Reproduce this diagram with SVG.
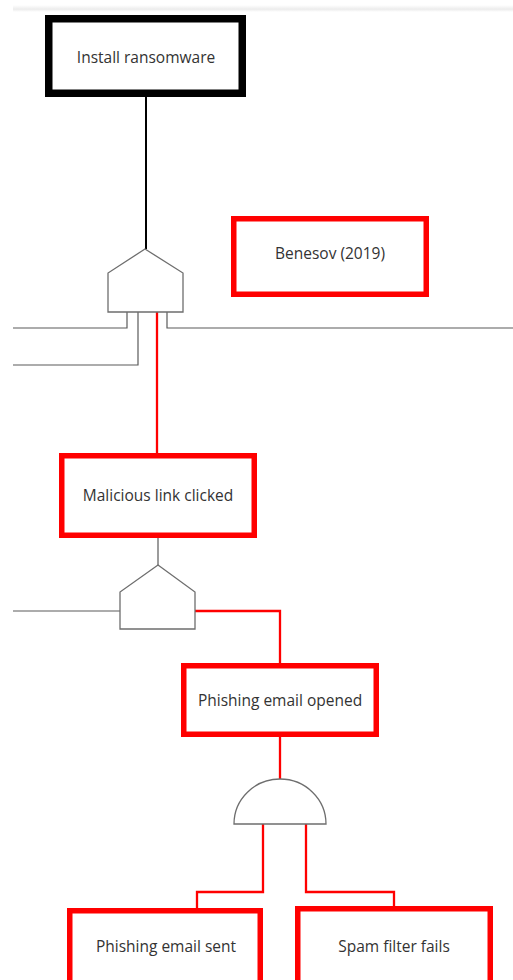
<svg xmlns="http://www.w3.org/2000/svg" width="513" height="980" viewBox="0 0 513 980">
  <style>
    .lbl { font-family: "Open Sans", "Noto Sans", "Liberation Sans", sans-serif; font-size: 15.5px; fill: #333333; text-anchor: middle; dominant-baseline: central; }
    .evt { fill: #ffffff; stroke: #ff0000; stroke-width: 5.5; }
    .top { fill: #ffffff; stroke: #000000; stroke-width: 7.5; }
    .gate { fill: #ffffff; stroke: #6e6e6e; stroke-width: 1.3; }
    .wire { fill: none; stroke: #5a5a5a; stroke-width: 1.2; }
    .hot { fill: none; stroke: #ff0000; stroke-width: 2.3; }
    .root { fill: none; stroke: #000000; stroke-width: 2; }
  </style>
  <defs>
    <linearGradient id="band" x1="0" y1="0" x2="0" y2="1">
      <stop offset="0" stop-color="#ffffff"/>
      <stop offset="0.6" stop-color="#ececec"/>
      <stop offset="1" stop-color="#ffffff"/>
    </linearGradient>
  </defs>
  <rect width="513" height="980" fill="#ffffff"/>
  <rect x="13" y="5" width="500" height="7" fill="url(#band)"/>

  <g id="connectors">
    <path class="root" d="M146 97 V249"/>
    <path class="wire" d="M127 312 V328 H13"/>
    <path class="wire" d="M138 312 V365 H13"/>
    <path class="wire" d="M167 312 V328 H513"/>
    <path class="hot" d="M157 312 V453"/>
    <path class="wire" d="M158 538 V565"/>
    <path class="wire" d="M13 611 H120"/>
    <path class="hot" d="M195 611 H280 V663"/>
    <path class="hot" d="M280 737 V779"/>
    <path class="hot" d="M263 824 V892 H197 V908"/>
    <path class="hot" d="M306 824 V892 H394 V906"/>
  </g>

  <g id="install-ransomware">
    <rect class="top" x="48.75" y="18.75" width="193.5" height="74.5"/>
    <text class="lbl" x="146" y="57">Install ransomware</text>
  </g>

  <g id="gate-top">
    <path class="gate" d="M145 249 L183 273 V312 H108 V273 Z"/>
  </g>

  <g id="benesov-2019">
    <rect class="evt" x="233.75" y="218.75" width="192.5" height="75.5"/>
    <text class="lbl" x="330" y="253">Benesov (2019)</text>
  </g>

  <g id="malicious-link-clicked">
    <rect class="evt" x="61.75" y="455.75" width="192.5" height="79.5"/>
    <text class="lbl" x="158" y="495">Malicious link clicked</text>
  </g>

  <g id="gate-link">
    <path class="gate" d="M158 565 L195 592 V629 H120 V592 Z"/>
  </g>

  <g id="phishing-email-opened">
    <rect class="evt" x="183.75" y="665.75" width="192.5" height="68.5"/>
    <text class="lbl" x="280" y="700">Phishing email opened</text>
  </g>

  <g id="gate-and">
    <path class="gate" d="M234 824 A46 45 0 0 1 326 824 Z"/>
  </g>

  <g id="phishing-email-sent">
    <rect class="evt" x="69.75" y="910.75" width="190.5" height="90"/>
    <text class="lbl" x="166" y="946">Phishing email sent</text>
  </g>

  <g id="spam-filter-fails">
    <rect class="evt" x="297.75" y="908.75" width="192.5" height="92"/>
    <text class="lbl" x="394" y="946">Spam filter fails</text>
  </g>
</svg>
